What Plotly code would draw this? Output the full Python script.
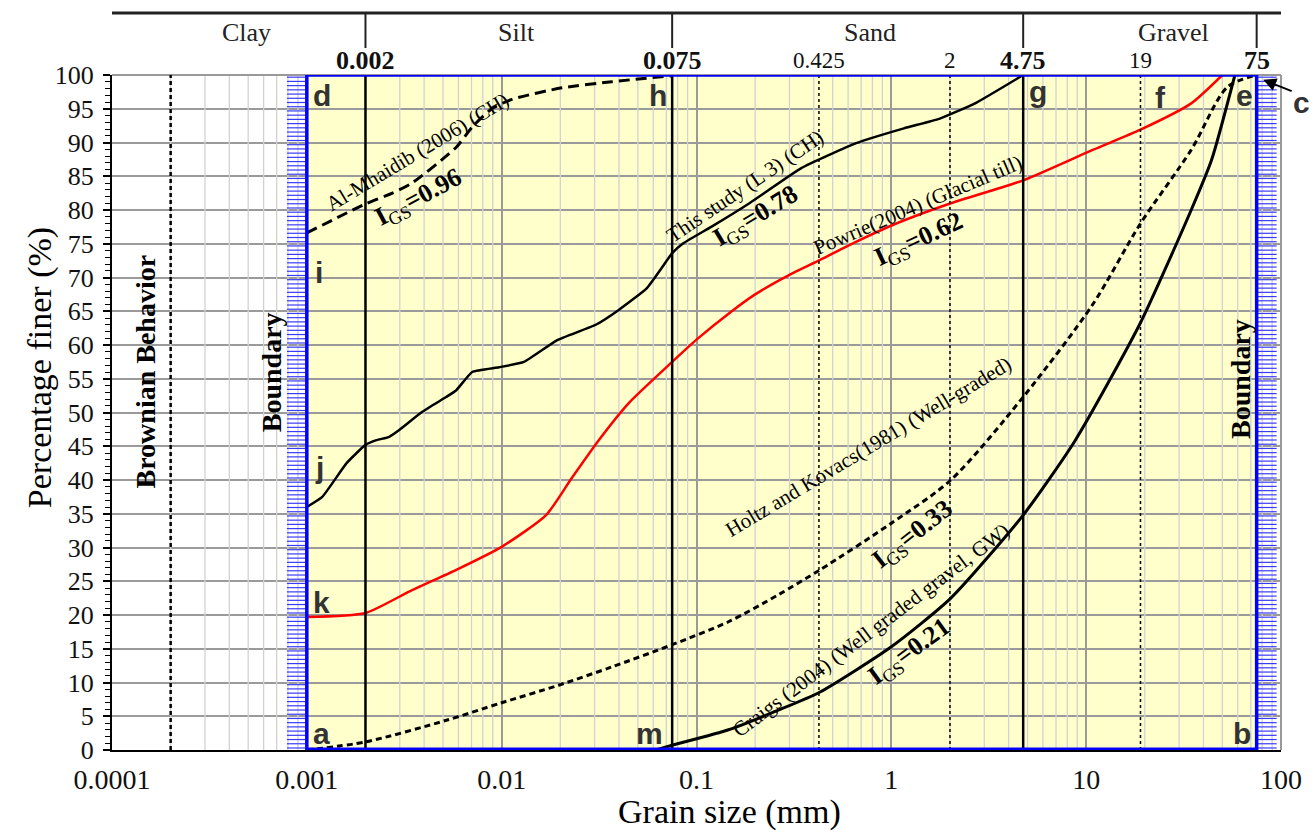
import numpy as np
import plotly.graph_objects as go

# ---------------- data ----------------
al_x = [0.001, 0.002, 0.00275, 0.00347, 0.00585, 0.00706, 0.0089, 0.0113, 0.0204, 0.0367, 0.075]
al_y = [76.6, 80.9, 82.5, 84.0, 89.3, 92.3, 95.0, 96.4, 98.1, 99.0, 99.9]

study_x = [0.001, 0.0012, 0.0016, 0.002, 0.00228, 0.00265, 0.00298, 0.00391, 0.00519, 0.00585,
           0.00706, 0.0097, 0.013, 0.0192, 0.0304, 0.0399, 0.0555, 0.0662, 0.075, 0.0859,
           0.119, 0.187, 0.345, 0.66, 1.16, 1.76, 2.69, 4.75]
study_y = [36.0, 37.5, 42.5, 45.2, 45.9, 46.4, 47.4, 50.1, 52.3, 53.3,
           56.0, 56.7, 57.5, 60.7, 63.0, 65.2, 68.4, 71.4, 73.6, 75.1,
           77.5, 81.0, 86.2, 89.9, 92.1, 93.5, 95.8, 100.0]

powrie_x = [0.001, 0.002, 0.00347, 0.00585, 0.01, 0.0169, 0.0229, 0.0315, 0.0449, 0.075,
            0.1, 0.15, 0.2, 0.3, 0.431, 0.65, 1.06, 2.02, 4.75, 10.8, 19, 34.6, 50]
powrie_y = [19.7, 20.3, 23.7, 26.7, 30.1, 34.8, 40.3, 45.9, 51.4, 57.5,
            60.8, 64.9, 67.5, 70.4, 72.6, 75.2, 78.0, 81.0, 84.4, 88.9, 91.9, 95.8, 100.0]

holtz_x = [0.001, 0.002, 0.0052, 0.01, 0.0196, 0.0367, 0.075, 0.146, 0.263, 0.431,
           1.0, 2.02, 4.75, 10.8, 19, 34.6, 53, 75]
holtz_y = [0.0, 1.2, 4.4, 7.0, 9.6, 12.3, 15.6, 19.0, 23.0, 26.7,
           33.6, 40.0, 52.3, 66.0, 78.0, 88.9, 98.2, 100.0]

craigs_x = [0.0618, 0.075, 0.146, 0.263, 0.431, 1.0, 2.02, 4.75, 8.8, 19, 34.6, 44, 58]
craigs_y = [0.0, 0.7, 3.0, 5.9, 8.6, 15.3, 22.5, 34.8, 45.9, 63.3, 80.0, 87.4, 100.0]

main_bounds = [0.002, 0.075, 4.75]          # solid boundaries
sieve_bounds = [0.425, 2, 19]               # dotted sieve sizes
brownian_x = 0.0002
zone_left, zone_right = 0.001, 75
strip_left = (0.00079, 0.001)
strip_right = (75, 95)

categories = ["Clay", "Silt", "Sand", "Gravel"]
category_x = [0.00049, 0.0119, 0.78, 28]
category_ticks = [0.002, 0.075, 4.75, 75]
top_labels = ["0.002", "0.075", "0.425", "2", "4.75", "19", "75"]
top_label_x = [0.002, 0.075, 0.425, 2, 4.75, 19, 75]
top_label_bold = [True, True, False, False, True, False, True]

x_tickvals = [0.0001, 0.001, 0.01, 0.1, 1, 10, 100]
x_ticktext = ["0.0001", "0.001", "0.01", "0.1", "1", "10", "100"]

SERIF = "Liberation Serif"
SANS = "Liberation Sans"

fig = go.Figure()

# minor vertical grid lines (log minors)
gx, gy = [], []
for n in range(-4, 2):
    for k in range(2, 10):
        v = k * 10 ** n
        gx += [v, v, None]
        gy += [0, 100, None]
fig.add_trace(go.Scatter(x=gx, y=gy, mode="lines", line=dict(color="#d2d2d2", width=1.3),
                         hoverinfo="skip", showlegend=False))

# blue hatched strips
hx, hy = [], []
for yv in np.arange(0.3, 100, 0.625):
    hx += [strip_left[0], strip_left[1], None, strip_right[0], strip_right[1], None]
    hy += [yv, yv, None, yv, yv, None]
fig.add_trace(go.Scatter(x=hx, y=hy, mode="lines", line=dict(color="#3a3aff", width=1.2),
                         hoverinfo="skip", showlegend=False))

# curves
fig.add_trace(go.Scatter(x=al_x, y=al_y, mode="lines", line=dict(color="black", width=3, dash="11px,6px", shape="spline", smoothing=0.6),
                         name="Al-Mhaidib (2006) (CH)", showlegend=False))
fig.add_trace(go.Scatter(x=study_x, y=study_y, mode="lines", line=dict(color="black", width=2.5, shape="spline", smoothing=0.4),
                         name="This study (L 3) (CH)", showlegend=False))
fig.add_trace(go.Scatter(x=powrie_x, y=powrie_y, mode="lines", line=dict(color="#ff0000", width=2.5, shape="spline", smoothing=0.6),
                         name="Powrie(2004) (Glacial till)", showlegend=False))
fig.add_trace(go.Scatter(x=holtz_x, y=holtz_y, mode="lines", line=dict(color="black", width=3, dash="6px,4px", shape="spline", smoothing=0.8),
                         name="Holtz and Kovacs(1981) (Well-graded)", showlegend=False))
fig.add_trace(go.Scatter(x=craigs_x, y=craigs_y, mode="lines", line=dict(color="black", width=3, shape="spline", smoothing=0.6),
                         name="Craigs (2004) (Well graded gravel, GW)", showlegend=False))

shapes = []
# yellow zone
shapes.append(dict(type="rect", xref="x", yref="y", x0=zone_left, x1=zone_right, y0=0, y1=100,
                   fillcolor="#FFFFCC", line=dict(width=0), layer="below"))
# white strips background
for s in (strip_left, strip_right):
    shapes.append(dict(type="rect", xref="x", yref="y", x0=s[0], x1=s[1], y0=0, y1=100,
                       fillcolor="white", line=dict(width=0), layer="below"))
# gray top / right frame
shapes.append(dict(type="line", xref="paper", yref="paper", x0=0, x1=1, y0=1, y1=1, line=dict(color="#999999", width=2)))
shapes.append(dict(type="line", xref="paper", yref="paper", x0=1, x1=1, y0=0, y1=1, line=dict(color="#999999", width=2)))
# Brownian dashed line
shapes.append(dict(type="line", xref="x", yref="y", x0=brownian_x, x1=brownian_x, y0=0, y1=100,
                   line=dict(color="black", width=2.5, dash="4px,3px")))
# main boundaries
for b in main_bounds:
    shapes.append(dict(type="line", xref="x", yref="y", x0=b, x1=b, y0=0, y1=100, line=dict(color="black", width=2.5)))
for b in sieve_bounds:
    shapes.append(dict(type="line", xref="x", yref="y", x0=b, x1=b, y0=0, y1=100, line=dict(color="black", width=1.5, dash="dot")))
# blue box
shapes.append(dict(type="rect", xref="x", yref="y", x0=zone_left, x1=zone_right, y0=0, y1=100,
                   line=dict(color="#0000ff", width=3.5)))
shapes.append(dict(type="line", xref="x", yref="y", x0=zone_left, x1=zone_right, y0=0, y1=0,
                   line=dict(color="#0000ff", width=5)))
# top category bar
TOPY = 1.0919
shapes.append(dict(type="line", xref="x", yref="paper", x0=0.0001, x1=100, y0=TOPY, y1=TOPY,
                   line=dict(color="#222222", width=3)))
for t in category_ticks:
    shapes.append(dict(type="line", xref="x", yref="paper", x0=t, x1=t, y0=TOPY, y1=1.04,
                       line=dict(color="#222222", width=2)))

ann = []
for c, cx in zip(categories, category_x):
    ann.append(dict(x=np.log10(cx), y=1.0637, xref="x", yref="paper", text=c, showarrow=False,
                    xanchor="center", yanchor="middle", font=dict(family=SERIF, size=26, color="#222")))
for lab, lx, bold in zip(top_labels, top_label_x, top_label_bold):
    ann.append(dict(x=np.log10(lx), y=1.0222, xref="x", yref="paper",
                    text=f"<b>{lab}</b>" if bold else lab, showarrow=False,
                    xanchor="center", yanchor="middle",
                    font=dict(family=SERIF, size=26 if bold else 23, color="#111")))

# letters
letters = [("d", 0.00119, 96.9), ("h", 0.0632, 96.9), ("g", 5.65, 97.5), ("f", 24.0, 96.7),
           ("e", 64.9, 97.0), ("i", 0.00116, 70.7), ("j", 0.00116, 41.9),
           ("k", 0.00119, 21.9), ("a", 0.00119, 2.5), ("m", 0.0575, 2.5), ("b", 63.2, 2.5)]
for t, lx, ly in letters:
    ann.append(dict(x=np.log10(lx), y=ly, xref="x", yref="y", text=f"<b>{t}</b>", showarrow=False,
                    xanchor="center", yanchor="middle", font=dict(family=SANS, size=30, color="#333333")))
ann.append(dict(x=1.0179, y=(750 - 102) / 675, xref="paper", yref="paper", text="<b>c</b>", showarrow=False,
                xanchor="center", yanchor="middle", font=dict(family=SANS, size=30, color="#333333")))

# arrows
ann.append(dict(x=np.log10(48.3), y=100.1, xref="x", yref="y", text="", showarrow=True,
                ax=-44, ay=14, arrowhead=2, arrowsize=1.3, arrowwidth=2, arrowcolor="black", standoff=0))
ann.append(dict(x=np.log10(81), y=99.3, xref="x", yref="y", text="", showarrow=True,
                ax=30, ay=12, arrowhead=2, arrowsize=1.3, arrowwidth=2, arrowcolor="black", standoff=0))

# rotated curve labels
def rot(text, x, y, ang, size=21):
    ann.append(dict(x=np.log10(x), y=y, xref="x", yref="y", text=text, showarrow=False,
                    xanchor="center", yanchor="middle",
                    textangle=ang, font=dict(family=SERIF, size=size, color="black")))

def igs(val):
    return f"<b>I</b><sub>GS</sub><b>={val}</b>"

rot("Al-Mhaidib (2006) (CH)", 0.00369, 88.6, -31)
rot(igs("0.96"), 0.00377, 81.8, -28, 26)
rot("This study (L 3) (CH)", 0.178, 83.6, -34)
rot(igs("0.78"), 0.201, 79.0, -31, 26)
rot("Powrie(2004) (Glacial till)", 1.37, 80.7, -23)
rot(igs("0.62"), 1.39, 75.6, -25, 26)
rot("Holtz and Kovacs(1981) (Well-graded)", 0.76, 44.9, -31)
rot(igs("0.33"), 1.29, 31.9, -38, 26)
rot("Craigs (2004) (Well graded gravel, GW)", 0.79, 17.8, -37)
rot(igs("0.21"), 1.25, 14.5, -36, 26)

# vertical bold texts
for t, x, y in [("Brownian Behavior", 0.000148, 56.1), ("Boundary", 0.000659, 55.9), ("Boundary", 62.5, 55.0)]:
    ann.append(dict(x=np.log10(x), y=y, xref="x", yref="y", text=f"<b>{t}</b>", showarrow=False,
                    xanchor="center", yanchor="middle",
                    textangle=-90, font=dict(family=SERIF, size=28, color="black")))

# axis titles
ann.append(dict(x=(40 - 112) / 1172, y=(750 - 368) / 675, xref="paper", yref="paper", text="Percentage finer (%)",
                showarrow=False, xanchor="center", yanchor="middle",
                textangle=-90, font=dict(family=SERIF, size=34, color="black")))
ann.append(dict(x=(731 - 112) / 1172, y=(750 - 812) / 675, xref="paper", yref="paper", text="Grain size (mm)",
                showarrow=False, xanchor="center", yanchor="middle",
                font=dict(family=SERIF, size=34, color="black")))

fig.update_layout(
    width=1314, height=838, autosize=False,
    margin=dict(l=112, r=30, t=75, b=88),
    paper_bgcolor="white", plot_bgcolor="white",
    shapes=shapes, annotations=ann, showlegend=False,
    xaxis=dict(type="log", range=[-4, 2], tickvals=x_tickvals, ticktext=x_ticktext,
               showgrid=True, gridcolor="#9a9a9a", gridwidth=1.5, showline=True, linecolor="black", linewidth=2,
               ticks="", ticklabelstandoff=3, tickfont=dict(family=SERIF, size=28, color="#111"), zeroline=False),
    yaxis=dict(range=[0, 100], dtick=5, showgrid=True, gridcolor="#9a9a9a", gridwidth=1.5,
               showline=True, linecolor="black", linewidth=2, ticks="outside", ticklen=7, tickwidth=1.5,
               tickcolor="black", minor=dict(dtick=1, ticks="outside", ticklen=5, tickwidth=1, tickcolor="black", showgrid=False),
               ticklabelstandoff=4, tickfont=dict(family=SERIF, size=26, color="#111"), zeroline=False),
)

fig.write_html("out.html")
